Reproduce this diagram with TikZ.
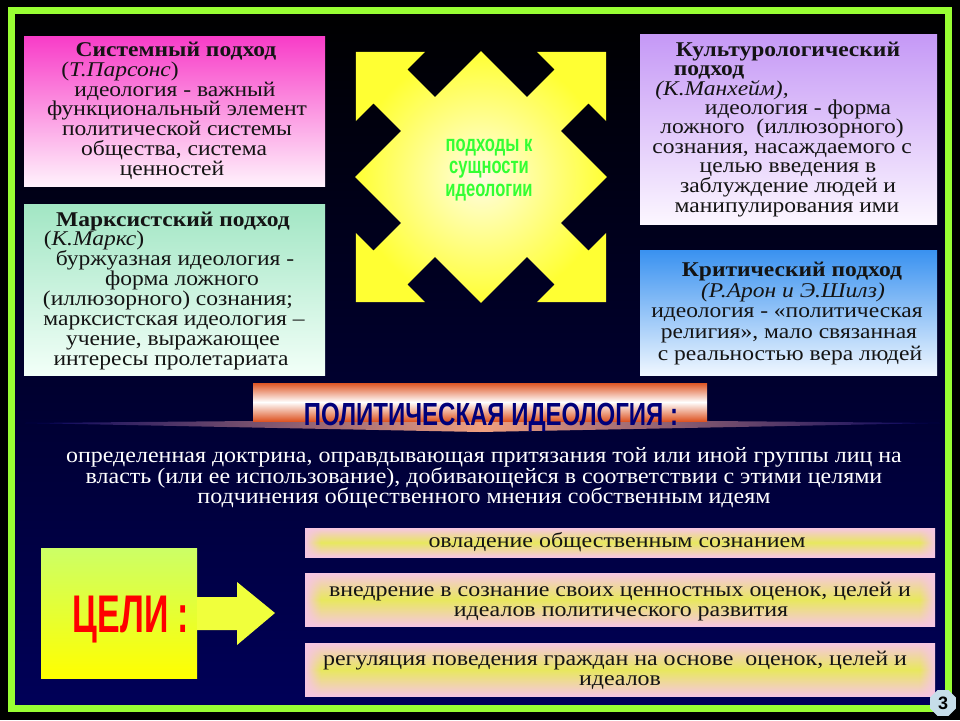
\documentclass[tikz,border=0pt]{standalone}
\usepackage{fontspec}
\usepackage{graphicx}
\setmainfont{Liberation Serif}
\newfontfamily\sansf{Liberation Sans}
\usetikzlibrary{fadings,shapes.geometric}
\definecolor{framegreen}{HTML}{99FF33}
\definecolor{bgmid}{RGB}{0,0,92}
\definecolor{bgbot}{RGB}{0,0,88}
\definecolor{magtop}{HTML}{F83CC8}
\definecolor{magbot}{HTML}{FFF2FC}
\definecolor{minttop}{HTML}{A2E6C4}
\definecolor{mintbot}{HTML}{F2FFF8}
\definecolor{lavtop}{HTML}{C598F6}
\definecolor{lavbot}{HTML}{FCF7FF}
\definecolor{bluetop}{HTML}{3A92F0}
\definecolor{bluebot}{HTML}{F0F7FF}
\definecolor{txt}{HTML}{141414}
\definecolor{gpink}{HTML}{F6C6E2}
\definecolor{gyellow}{HTML}{E8E85E}
\definecolor{tseltop}{HTML}{CCFF66}
\definecolor{tselbot}{HTML}{FFFF00}
\definecolor{arryel}{HTML}{FFFF33}
\definecolor{arrpale}{HTML}{FFFDE2}
\definecolor{tselarrow}{HTML}{F0FF3C}
\definecolor{bannerorange}{HTML}{DE5524}
\definecolor{streak}{HTML}{F0A080}
\definecolor{bannerblue}{HTML}{00007A}
\definecolor{labgreen}{HTML}{33FF33}
\definecolor{pgblue}{HTML}{C6DDE9}
\newcommand{\wide}[2][1.12]{\scalebox{#1}[1]{#2}}
\newcommand{\putline}[3]{\node[anchor=base, inner sep=0pt, text=txt, font=\fontsize{21}{21}\selectfont] (#1) at #2 {\wide{#3}};}
\begin{document}
\begin{tikzpicture}[x=1pt,y=-1pt,
  panel/.style={draw=none, inner sep=0pt, minimum width=#1pt},
  goalbox/.style={inner sep=0pt, minimum width=630pt, top color=gpink, bottom color=gpink, middle color=gyellow},
  goaltext/.style={anchor=base, inner sep=0pt, text=txt, font=\fontsize{21}{21}\selectfont},
  deftext/.style={anchor=base, inner sep=0pt, text=white, font=\fontsize{22}{22}\selectfont},
  condlabel/.style={anchor=base, inner sep=0pt, font=\sansf\bfseries\fontsize{#1}{#1}\selectfont}]
\useasboundingbox (0,0) rectangle (960,720);
\fill[black] (0,0) rectangle (960,720);
\shade[top color=black, middle color=bgmid, bottom color=bgbot] (15,14) rectangle (945,705);
\draw[framegreen, line width=7pt] (11.5,10.5) rectangle (948.5,708.5);

% ---- four approach panels
\node[panel=301, minimum height=150pt, top color=magtop, bottom color=magbot] (sys) at (174.5,111) {};
\node[panel=301, minimum height=171pt, top color=minttop, bottom color=mintbot] (marx) at (174.5,289.5) {};
\node[panel=297, minimum height=190pt, top color=lavtop, bottom color=lavbot] (kult) at (788.5,129) {};
\node[panel=297, minimum height=125pt, top color=bluetop, bottom color=bluebot] (krit) at (788.5,313) {};

\putline{s1}{(176,56)}{\textbf{Системный подход}}
\putline{s2}{(120,76)}{(\textit{Т.Парсонс})}
\putline{s3}{(175,96)}{идеология - важный}
\putline{s4}{(177,115)}{функциональный элемент}
\putline{s5}{(177,135)}{политической системы}
\putline{s6}{(174,155)}{общества, система}
\putline{s7}{(172,175)}{ценностей}

\putline{m1}{(173,226)}{\textbf{Марксистский подход}}
\putline{m2}{(94,245)}{(\textit{К.Маркс})}
\putline{m3}{(175,265)}{буржуазная идеология -}
\putline{m4}{(182,285)}{форма ложного}
\putline{m5}{(168,305)}{(иллюзорного) сознания;}
\putline{m6}{(174,325)}{марксистская идеология –}
\putline{m7}{(173,345)}{учение, выражающее}
\putline{m8}{(171,365)}{интересы пролетариата}

\putline{k1}{(788,56)}{\textbf{Культурологический}}
\putline{k2}{(709,75)}{\textbf{подход}}
\putline{k3}{(722,95)}{\textit{(К.Манхейм),}}
\putline{k4}{(798,114)}{идеология - форма}
\putline{k5}{(782,133)}{ложного\ \ (иллюзорного)}
\putline{k6}{(782,153)}{сознания, насаждаемого с}
\putline{k7}{(788,172)}{целью введения в}
\putline{k8}{(788,192)}{заблуждение людей и}
\putline{k9}{(787,212)}{манипулирования ими}

\putline{c1}{(792,276)}{\textbf{Критический подход}}
\putline{c2}{(793,297)}{\textit{(Р.Арон и Э.Шилз)}}
\putline{c3}{(787,317)}{идеология - «политическая}
\putline{c4}{(789,338)}{религия», мало связанная}
\putline{c5}{(790,360)}{с реальностью вера людей}

% ---- central four-way arrow
\begin{scope}[shift={(481,177)}, rotate=45]
\shade[inner color=arrpale, outer color=arryel]
 (89,-89) -- (89,-24) -- (128,-24) -- (128,-49) -- (177,0) -- (128,49) -- (128,24) -- (89,24) --
 (89,89) -- (24,89) -- (24,128) -- (49,128) -- (0,177) -- (-49,128) -- (-24,128) -- (-24,89) --
 (-89,89) -- (-89,24) -- (-128,24) -- (-128,49) -- (-177,0) -- (-128,-49) -- (-128,-24) -- (-89,-24) --
 (-89,-89) -- (-24,-89) -- (-24,-128) -- (-49,-128) -- (0,-177) -- (49,-128) -- (24,-128) -- (24,-89) -- cycle;
\end{scope}
\node[condlabel=23, text=labgreen] (ap1) at (489,151) {\scalebox{0.72}[1]{подходы к}};
\node[condlabel=23, text=labgreen] (ap2) at (489,173) {\scalebox{0.72}[1]{сущности}};
\node[condlabel=23, text=labgreen] (ap3) at (489,196) {\scalebox{0.72}[1]{идеологии}};

% ---- banner
\shade[left color=bgmid, right color=bgmid, middle color=streak]
  (25,423) -- (480,419) -- (940,423) -- (480,432) -- cycle;
\node[inner sep=0pt, minimum width=454pt, minimum height=38pt, top color=bannerorange, bottom color=bannerorange, middle color=white] (banner) at (480,402) {};
\node[condlabel=32, text=bannerblue] (bannertext) at (491,425) {\scalebox{0.75}[1]{ПОЛИТИЧЕСКАЯ ИДЕОЛОГИЯ :}};

% ---- definition
\node[deftext] (d1) at (484,462) {\wide[1.09]{определенная доктрина, оправдывающая притязания той или иной группы лиц на}};
\node[deftext] (d2) at (484,483) {\wide[1.09]{власть (или ее использование), добивающейся в соответствии с этими целями}};
\node[deftext] (d3) at (484,503) {\wide[1.09]{подчинения общественного мнения собственным идеям}};

% ---- goals
\node[inner sep=0pt, minimum width=156pt, minimum height=130pt, top color=tseltop, bottom color=tselbot] (tsel) at (119,613) {};
\fill[tselarrow] (tsel.east |- 0,597) -- (237,597) -- (237,582) -- (275,613) -- (237,645) -- (237,630) -- (tsel.east |- 0,630) -- cycle;
\node[condlabel=53, text=red] (tseltext) at (131,632) {\scalebox{0.64}[1]{ЦЕЛИ :}};

\node[goalbox, minimum height=29pt] (g1) at (620,542.5) {};
\node[goalbox, minimum height=53pt] (g2) at (620,599.5) {};
\node[goalbox, minimum height=53pt] (g3) at (620,669.5) {};
\foreach \t/\b in {528/557, 573/626, 643/696} {
  \fill[gpink, path fading=east] (305,\t) rectangle (321,\b);
  \fill[gpink, path fading=west] (919,\t) rectangle (935,\b);
}
\node[goaltext] (g1a) at (617,547) {\wide[1.14]{овладение общественным сознанием}};
\node[goaltext] (g2a) at (620,596) {\wide[1.14]{внедрение в сознание своих ценностных оценок, целей и}};
\node[goaltext] (g2b) at (621,616) {\wide[1.14]{идеалов политического развития}};
\node[goaltext] (g3a) at (615,665) {\wide[1.14]{регуляция поведения граждан на основе\ \ оценок, целей и}};
\node[goaltext] (g3b) at (620,685) {\wide[1.14]{идеалов}};

% ---- page number
\node[regular polygon, regular polygon sides=8, minimum size=28pt, inner sep=0pt, fill=pgblue, text=black, font=\sansf\bfseries\fontsize{18}{18}\selectfont] (pgnum) at (943,703) {3};
\end{tikzpicture}
\end{document}
